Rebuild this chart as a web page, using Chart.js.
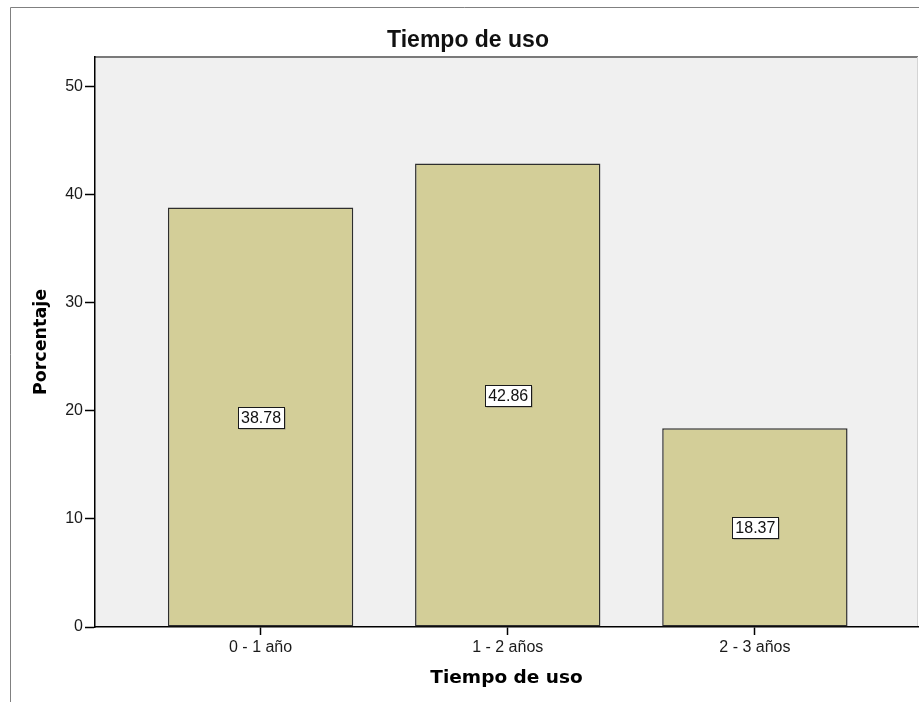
<!DOCTYPE html>
<html>
<head>
<meta charset="utf-8">
<script src="https://cdn.jsdelivr.net/npm/chart.js@4.4.0/dist/chart.umd.min.js"></script>
<style>
  html, body { margin: 0; padding: 0; background: #ffffff; }
  #wrap { width: 919px; height: 702px; }
</style>
</head>
<body>
<div id="wrap"><canvas id="c" width="919" height="702"></canvas></div>
<script>
// Usage time groups and their share of respondents (%)
const categories = ['0 - 1 año', '1 - 2 años', '2 - 3 años'];
const percentages = [38.78, 42.86, 18.37];
const yTicks = [0, 10, 20, 30, 40, 50];

const chartTitle = 'Tiempo de uso';
const xTitle = 'Tiempo de uso';
const yTitle = 'Porcentaje';

const barFill = '#d3ce98';
const barEdge = '#2e2e2e';
const plotFill = '#f0f0f0';

// Outer frame, plot background and plot edges
const framePlugin = {
  id: 'frame',
  beforeDraw(chart) {
    const { ctx, chartArea: a } = chart;
    ctx.save();
    ctx.fillStyle = plotFill;
    ctx.fillRect(a.left, a.top, a.right - a.left, a.bottom - a.top);
    ctx.strokeStyle = '#7a7a7a';
    ctx.lineWidth = 2;
    ctx.beginPath();
    ctx.moveTo(a.left, a.top);
    ctx.lineTo(a.right, a.top);
    ctx.stroke();
    ctx.strokeStyle = '#d4d4d4';
    ctx.lineWidth = 1;
    ctx.beginPath();
    ctx.moveTo(a.right - 0.5, a.top);
    ctx.lineTo(a.right - 0.5, a.bottom);
    ctx.stroke();
    ctx.strokeStyle = '#808080';
    ctx.beginPath();
    ctx.moveTo(10.5, 702);
    ctx.lineTo(10.5, 7.5);
    ctx.lineTo(919, 7.5);
    ctx.stroke();
    ctx.restore();
  }
};

// Boxed value labels at the middle of each bar
const valueLabels = {
  id: 'valueLabels',
  afterDatasetsDraw(chart) {
    const { ctx } = chart;
    const yScale = chart.scales.y;
    const meta = chart.getDatasetMeta(0);
    ctx.save();
    ctx.font = '16px "Liberation Sans", Arial, sans-serif';
    ctx.textAlign = 'center';
    ctx.textBaseline = 'middle';
    meta.data.forEach((bar, i) => {
      const v = percentages[i];
      const text = v.toFixed(2);
      const cx = bar.x;
      const cy = yScale.getPixelForValue(v / 2);
      const w = Math.round(ctx.measureText(text).width) + 6;
      const h = 21;
      const x0 = Math.round(cx - w / 2) + 0.5;
      const y0 = Math.round(cy - h / 2) + 0.5;
      ctx.fillStyle = 'rgba(90,90,90,0.55)';
      ctx.fillRect(x0 + 1, y0 + 1, w, h);
      ctx.fillStyle = '#ffffff';
      ctx.fillRect(x0, y0, w, h);
      ctx.strokeStyle = '#1a1a1a';
      ctx.lineWidth = 1;
      ctx.strokeRect(x0, y0, w, h);
      ctx.fillStyle = '#111111';
      ctx.fillText(text, cx + 0.5, cy + 1);
    });
    ctx.restore();
  }
};

new Chart(document.getElementById('c'), {
  type: 'bar',
  data: {
    datasets: [{
      data: percentages.map((v, i) => ({ x: i, y: v })),
      backgroundColor: barFill,
      borderColor: barEdge,
      borderWidth: 1.5,
      borderSkipped: false,
      categoryPercentage: 1,
      barPercentage: 0.75
    }]
  },
  options: {
    responsive: false,
    animation: false,
    events: [],
    layout: { padding: { left: 18, right: 1, top: 0, bottom: 0 } },
    plugins: {
      legend: { display: false },
      tooltip: { enabled: false },
      title: {
        display: true,
        text: chartTitle,
        color: '#111111',
        font: { family: '"Liberation Sans", Arial, sans-serif', size: 23, weight: 'bold', lineHeight: 1.2 },
        padding: { top: 27, bottom: 2.4 }
      }
    },
    scales: {
      x: {
        type: 'linear',
        offset: false,
        min: -0.67,
        max: 2.66,
        afterBuildTicks: (scale) => { scale.ticks = categories.map((_, i) => ({ value: i })); },
        afterFit: (scale) => { scale.height = 75; },
        ticks: {
          includeBounds: false,
          autoSkip: false,
          maxRotation: 0,
          padding: 3,
          color: '#1a1a1a',
          font: { family: '"Liberation Sans", Arial, sans-serif', size: 16 },
          callback: (value) => categories[value] ?? ''
        },
        grid: { offset: false, drawOnChartArea: false, drawTicks: true, tickLength: 8, color: '#000000', tickWidth: 1.5 },
        border: { display: true, color: '#000000', width: 1.5 },
        title: {
          display: true,
          text: xTitle,
          color: '#000000',
          font: { family: '"DejaVu Sans", sans-serif', size: 18.5, weight: 'bold', lineHeight: 1.2 },
          padding: { top: 0, bottom: 13 }
        }
      },
      y: {
        min: 0,
        max: 52.7,
        afterBuildTicks: (scale) => { scale.ticks = yTicks.map(v => ({ value: v })); },
        afterFit: (scale) => { scale.width = 77; },
        ticks: {
          includeBounds: false,
          padding: 2,
          color: '#1a1a1a',
          font: { family: '"Liberation Sans", Arial, sans-serif', size: 16 }
        },
        grid: { drawOnChartArea: false, drawTicks: true, tickLength: 10, color: '#000000', tickWidth: 1.5 },
        border: { display: true, color: '#000000', width: 1.5 },
        title: {
          display: true,
          text: yTitle,
          color: '#000000',
          font: { family: '"DejaVu Sans", sans-serif', size: 17.5, weight: 'bold', lineHeight: 1.2 },
          padding: { top: 12.5, bottom: 0 }
        }
      }
    }
  },
  plugins: [framePlugin, valueLabels]
});
</script>
</body>
</html>
